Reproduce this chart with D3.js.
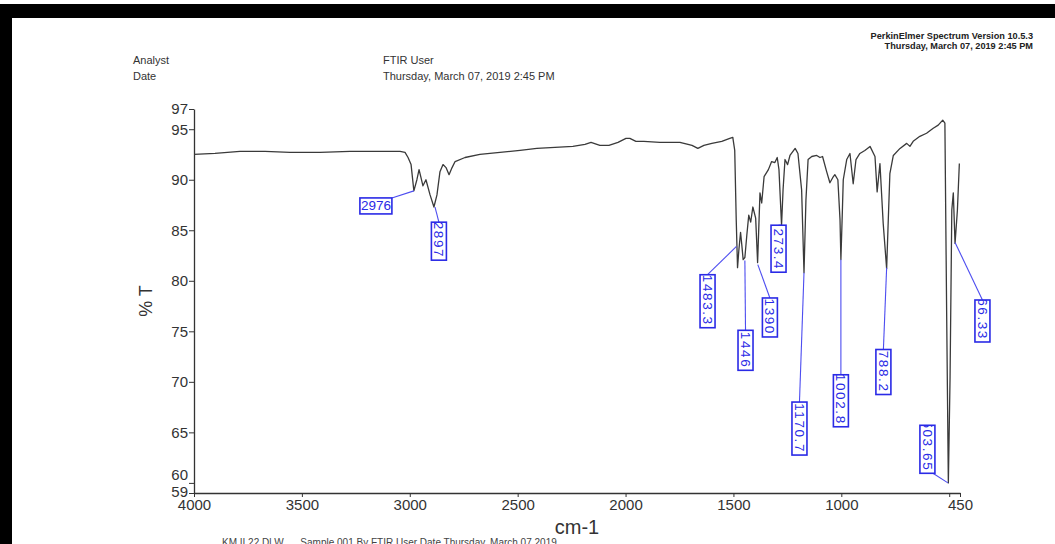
<!DOCTYPE html>
<html lang="en">
<head>
<meta charset="UTF-8">
<title>FTIR spectrum</title>
<style>
  body { margin: 0; background: #fff; }
  svg { display: block; }
</style>
</head>
<body>
<svg id="chart"></svg>
<script src="https://d3js.org/d3.v7.min.js"></script>
<script>
// spectrum: wavenumber (cm-1) and %T
const wavenumbers = [4000, 3903, 3787, 3671, 3555, 3416, 3277, 3138, 3045, 3022, 3008, 2994, 2981, 2967, 2957,
  2948, 2939, 2925, 2906, 2888, 2874, 2860, 2846, 2832, 2818, 2804, 2790, 2744, 2675, 2582, 2489, 2411, 2327,
  2244, 2188, 2160, 2119, 2077, 2035, 1998, 1980, 1952, 1915, 1841, 1748, 1692, 1665, 1637, 1600, 1554, 1517,
  1503, 1494, 1487, 1481, 1475, 1467, 1461, 1455, 1447, 1438, 1429, 1420, 1410, 1397, 1388, 1377, 1369, 1358,
  1338, 1323, 1308, 1297, 1289, 1277, 1270, 1261, 1249, 1238, 1214, 1201, 1184, 1173, 1164, 1154, 1137, 1114,
  1099, 1087, 1068, 1053, 1040, 1030, 1016, 1006, 1002, 995, 991, 975, 960, 945, 932, 914, 891, 867, 844, 834,
  821, 806, 790, 784, 775, 759, 728, 697, 682, 667, 636, 605, 574, 551, 530, 520, 512, 504, 496, 488, 481, 473,
  462, 453];
const transmittance = [92.5, 92.6, 92.8, 92.8, 92.7, 92.7, 92.8, 92.8, 92.8, 92.7, 92.2, 91.5, 88.9, 90.0, 91.0,
  90.2, 89.4, 90.0, 88.5, 87.3, 88.5, 90.8, 91.5, 91.2, 90.5, 91.2, 91.8, 92.2, 92.5, 92.7, 92.9, 93.1, 93.2,
  93.3, 93.5, 93.7, 93.4, 93.4, 93.7, 94.1, 94.1, 93.8, 93.8, 93.7, 93.7, 93.4, 93.1, 93.4, 93.6, 93.8, 94.1,
  94.2, 92.9, 86.0, 81.3, 83.0, 84.8, 83.5, 82.1, 82.3, 84.5, 86.5, 85.8, 87.3, 86.2, 81.8, 88.7, 87.7, 90.3,
  91.0, 91.8, 91.7, 92.2, 91.0, 85.5, 89.0, 92.0, 91.5, 92.4, 93.1, 92.6, 89.0, 80.8, 88.0, 92.0, 92.3, 92.4,
  92.2, 92.3, 90.8, 89.7, 90.2, 90.5, 90.0, 86.0, 82.1, 87.0, 90.0, 92.0, 92.6, 89.6, 92.0, 92.6, 92.9, 93.3,
  92.3, 88.8, 91.6, 85.7, 81.2, 85.0, 90.6, 92.4, 93.1, 93.6, 93.3, 93.8, 94.3, 94.6, 95.1, 95.4, 95.9, 95.6,
  77.1, 60.0, 70.5, 87.0, 88.7, 83.7, 87.0, 91.6];

const yTicks = [97, 95, 90, 85, 80, 75, 70, 65, 60, 59];
const xTicks = [4000, 3500, 3000, 2500, 2000, 1500, 1000, 500, 450];
const xTickLabels = ["4000", "3500", "3000", "2500", "2000", "1500", "1000", "", "450"];

// peak picks: label text and the point the leader touches
const peakNames = ["2976", "2897", "1483.3", "1446", "1390", "1273.4", "1170.7", "1002.8", "788.2", "503.65", "466.33"];
const peakWn = [2981, 2883, 1486, 1447, 1387, 1277, 1173, 1002, 790, 506, 473];
const peakT = [88.9, 87.3, 83.4, 82.0, 81.6, 85.5, 80.8, 82.1, 81.3, 60.0, 83.8];

// where each label box sits (centre wavenumber, top %T), its length and where the leader leaves it
const boxWn = [3157, 2865, 1620, 1444, 1331, 1291, 1194, 1002, 805, 601, 346];
const boxT = [88.2, 85.8, 80.6, 75.1, 78.3, 85.5, 68.0, 70.7, 73.2, 65.7, 78.1];
const boxLen = [32, 38, 53, 40, 39, 47, 53, 52, 45, 48, 42];
const boxFlat = [true, false, false, false, false, false, false, false, false, false, false];
const leaderFrom = ["topright", "top", "top", "top", "top", "top", "top", "top", "top", "bottomright", "top"];

const width = 1055, height = 544;
const x = d3.scaleLinear([4000, 450], [194, 960]);
const y = d3.scaleLinear([59, 97], [493, 109]);

const svg = d3.select("#chart")
  .attr("width", width)
  .attr("height", height)
  .attr("viewBox", [0, 0, width, height])
  .style("font-family", "'Liberation Sans', Arial, sans-serif");

svg.append("rect").attr("width", width).attr("height", height).attr("fill", "#fff");

// black frame of the photographed screen
svg.append("rect").attr("x", 0).attr("y", 4).attr("width", width).attr("height", 14).attr("fill", "#000");
svg.append("rect").attr("x", 0).attr("y", 4).attr("width", 12).attr("height", height).attr("fill", "#000");

// header
const head = svg.append("g").attr("fill", "#333").attr("font-size", 11);
head.append("text").attr("x", 133).attr("y", 64).text("Analyst");
head.append("text").attr("x", 133).attr("y", 80).text("Date");
head.append("text").attr("x", 383).attr("y", 64).text("FTIR User");
head.append("text").attr("x", 383).attr("y", 80).text("Thursday, March 07, 2019 2:45 PM");
const corner = svg.append("g").attr("fill", "#222").attr("font-size", 9.2)
  .attr("font-weight", "bold").attr("text-anchor", "end");
corner.append("text").attr("x", 1033).attr("y", 39).text("PerkinElmer Spectrum Version 10.5.3");
corner.append("text").attr("x", 1033).attr("y", 48.5).text("Thursday, March 07, 2019 2:45 PM");

// axes
const tickFont = "'Liberation Sans Narrow', 'Arial Narrow', 'Liberation Sans', sans-serif";
const yShift = {60: -8, 59: -1};
svg.append("g")
  .attr("transform", `translate(${x(4000)},0)`)
  .call(d3.axisLeft(y).tickValues(yTicks).tickSize(5).tickSizeOuter(0).tickPadding(1).tickFormat(d3.format("d")))
  .call(g => g.select(".domain").attr("stroke", "#333").attr("stroke-width", 1.3))
  .call(g => g.selectAll(".tick line").attr("stroke", "#333"))
  .call(g => g.selectAll(".tick text")
    .attr("font-family", tickFont).attr("font-size", 15).attr("fill", "#333")
    .attr("dy", d => (0.32 + (yShift[d] || 0) / 15) + "em"));

svg.append("g")
  .attr("transform", `translate(0,${y(59)})`)
  .call(d3.axisBottom(x).tickValues(xTicks).tickSize(4).tickSizeOuter(0).tickPadding(2)
    .tickFormat((d, i) => xTickLabels[i]))
  .call(g => g.select(".domain").attr("stroke", "#333").attr("stroke-width", 1.3))
  .call(g => g.selectAll(".tick line").attr("stroke", "#333"))
  .call(g => g.selectAll(".tick text")
    .attr("font-family", tickFont).attr("font-size", 15).attr("fill", "#333"));

svg.append("text")
  .attr("transform", `translate(152,${y(78)}) rotate(-90)`)
  .attr("text-anchor", "middle")
  .attr("font-size", 18).attr("fill", "#333")
  .text("% T");

svg.append("text")
  .attr("x", 577).attr("y", 534)
  .attr("text-anchor", "middle")
  .attr("font-size", 20).attr("fill", "#333")
  .text("cm-1");

svg.append("text")
  .attr("x", 222).attr("y", 546)
  .attr("font-size", 10).attr("fill", "#444")
  .attr("xml:space", "preserve")
  .text("KM II 22 Dl W      Sample 001 By FTIR User Date Thursday, March 07 2019");

// spectrum
const line = d3.line()
  .x(d => x(d[0]))
  .y(d => y(d[1]));

svg.append("path")
  .datum(d3.zip(wavenumbers, transmittance))
  .attr("fill", "none")
  .attr("stroke", "#3a3a3a")
  .attr("stroke-width", 1.3)
  .attr("stroke-linejoin", "round")
  .attr("d", line);

// peak labels
const blue = "#2a2ae6";
const boxes = peakNames.map((name, i) => {
  const w = boxFlat[i] ? boxLen[i] : 15;
  const h = boxFlat[i] ? 16 : boxLen[i];
  const cx = x(boxWn[i]);
  const top = y(boxT[i]);
  const left = cx - w / 2;
  let ax = cx, ay = top;
  if (leaderFrom[i] === "topright") { ax = left + w; ay = top; }
  if (leaderFrom[i] === "bottomright") { ax = left + w - 2; ay = top + h; }
  return {name, i, w, h, cx, top, left, ax, ay, px: x(peakWn[i]), py: y(peakT[i]), flat: boxFlat[i]};
});

const defs = svg.append("defs");
defs.selectAll("clipPath")
  .data(boxes)
  .join("clipPath")
  .attr("id", d => "clip" + d.i)
  .append("rect")
  .attr("x", d => d.left).attr("y", d => d.top)
  .attr("width", d => d.w).attr("height", d => d.h);

const lab = svg.append("g");
lab.selectAll("line")
  .data(boxes)
  .join("line")
  .attr("x1", d => d.ax).attr("y1", d => d.ay)
  .attr("x2", d => d.px).attr("y2", d => d.py)
  .attr("stroke", "#4d4df0")
  .attr("stroke-width", 1.1);

lab.selectAll("rect")
  .data(boxes)
  .join("rect")
  .attr("x", d => d.left).attr("y", d => d.top)
  .attr("width", d => d.w).attr("height", d => d.h)
  .attr("fill", "#fff")
  .attr("stroke", blue)
  .attr("stroke-width", 1.6);

// the clip sits on a wrapper so the rotation does not move it
lab.selectAll("g.name")
  .data(boxes)
  .join("g")
  .attr("class", "name")
  .attr("clip-path", d => `url(#clip${d.i})`)
  .append("text")
  .attr("fill", blue)
  .attr("font-size", 13.5)
  .attr("letter-spacing", d => d.flat ? 0 : 1.6)
  .attr("dominant-baseline", "central")
  .attr("text-anchor", d => d.flat ? "middle" : "end")
  .attr("transform", d => d.flat
    ? `translate(${d.cx},${d.top + d.h / 2})`
    : `translate(${d.cx},${d.top + d.h - 2}) rotate(90)`)
  .text(d => d.name);
</script>
</body>
</html>
